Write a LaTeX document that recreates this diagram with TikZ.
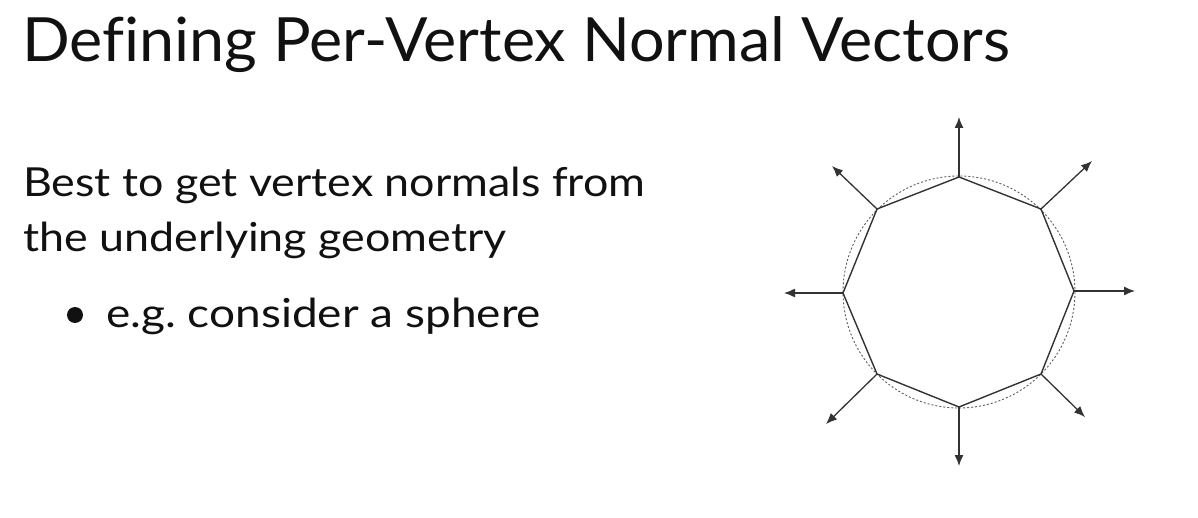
\documentclass[tikz,border=0pt]{standalone}
\usepackage{fontspec}
\setmainfont{Lato}[Ligatures=NoCommon]
\newfontfamily\titlefont{Lato}[Ligatures=NoCommon, FakeStretch=1.03]
\newfontfamily\bodyfont{Lato}[Ligatures=NoCommon, FakeStretch=1.12]
\newfontfamily\bulletfont{Lato}[Ligatures=NoCommon, FakeStretch=1.15]
\usetikzlibrary{arrows.meta}
\definecolor{ink}{HTML}{111111}
\definecolor{edge}{HTML}{333333}
\frenchspacing
\tikzset{
  titletext/.style={anchor=base west, inner sep=0pt, text=ink, font=\titlefont\fontsize{61}{61}\selectfont},
  bodytext/.style={anchor=base west, inner sep=0pt, text=ink, font=\bodyfont\fontsize{40}{40}\selectfont},
  bullettext/.style={anchor=base west, inner sep=0pt, text=ink, font=\bulletfont\fontsize{40}{40}\selectfont},
  meshedge/.style={draw=edge, line width=1.4pt, line join=round},
  normalarrow/.style={draw=edge, line width=1.3pt, -{Latex[length=11pt,width=9pt]}},
  spherecircle/.style={draw=edge!80, line width=0.9pt, dash pattern=on 2pt off 2pt},
  bulletdot/.style={circle, fill=ink, inner sep=0pt, minimum size=16pt}
}
\begin{document}
\begin{tikzpicture}[x=1pt,y=-1pt]
\useasboundingbox (0,0) rectangle (1198,518);
\fill[white] (0,0) rectangle (1198,518);

\node[titletext] (title) at (22,62) {Defining Per-Vertex Normal Vectors};
\node[bodytext] (line1) at (23,197) {Best to get vertex normals from};
\node[bodytext] (line2) at (23,252) {the underlying geometry};
\node[bulletdot] (dot) at (75,315) {};
\node[bullettext] (line3) at (106,327) {e.g. consider a sphere};

\coordinate (c) at (959,292);
\coordinate (vT) at (959,177);
\coordinate (vUR) at (1041,209);
\coordinate (vR) at (1074,291);
\coordinate (vLR) at (1041,374);
\coordinate (vB) at (959,407);
\coordinate (vLL) at (877,374);
\coordinate (vL) at (843,293);
\coordinate (vUL) at (877,209);

\coordinate (tT) at (959,117);
\coordinate (tUR) at (1092,161);
\coordinate (tR) at (1135,291);
\coordinate (tLR) at (1085,417);
\coordinate (tB) at (959,466);
\coordinate (tLL) at (826,424);
\coordinate (tL) at (784,293);
\coordinate (tUL) at (832,166);

\draw[spherecircle] (c) circle[radius=116];
\draw[meshedge] (vT) -- (vUR) -- (vR) -- (vLR) -- (vB) -- (vLL) -- (vL) -- (vUL) -- cycle;

\foreach \p in {T,UR,R,LR,B,LL,L,UL}
  \draw[normalarrow] (v\p) -- (t\p);
\end{tikzpicture}
\end{document}
